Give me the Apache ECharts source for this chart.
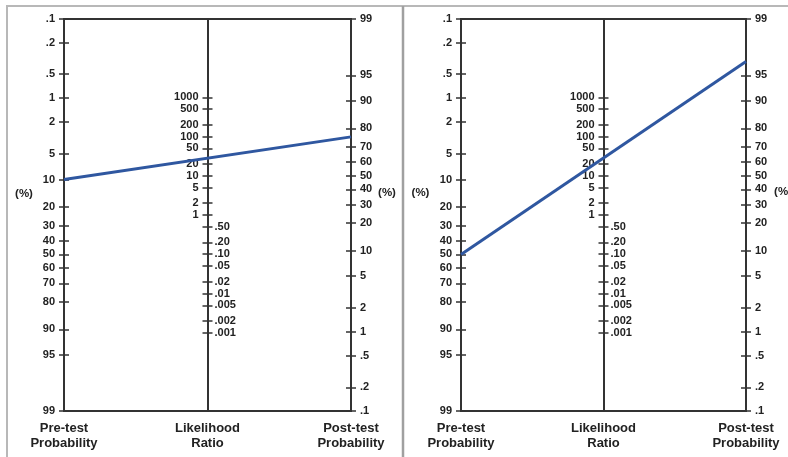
<!DOCTYPE html>
<html>
<head>
<meta charset="utf-8">
<script src="https://cdn.jsdelivr.net/npm/echarts@6/dist/echarts.min.js"></script>
<style>html,body{margin:0;padding:0;background:#fff;}#c{width:788px;height:457px;}</style>
</head>
<body>
<div id="c"></div>
<script>
// ---- data ----
const preTickLabels = ['.1','.2','.5','1','2','5','10','20','30','40','50','60','70','80','90','95','99'];
const postTickLabels = ['99','95','90','80','70','60','50','40','30','20','10','5','2','1','.5','.2','.1'];
const lrTickLabels = ['1000','500','200','100','50','20','10','5','2','1','.50','.20','.10','.05','.02','.01','.005','.002','.001'];
const panelNames = ['Example A', 'Example B'];
const preTestProb = [10, 50];     // %
const postTestProb = [75.7, 96.6]; // %
const axisTitles = ['Pre-test\nProbability', 'Likelihood\nRatio', 'Post-test\nProbability'];

// ---- helpers ----
const logit = p => Math.log(p / (100 - p));
const Lmin = logit(0.1), Lmax = logit(99);
const D = Lmax - Lmin;
const num = s => parseFloat(s);
const preVals = preTickLabels.map(s => logit(num(s)));
const postVals = postTickLabels.map(s => logit(num(s)));
const lrValsHi = lrTickLabels.filter(s => num(s) >= 1).map(s => Math.log(num(s)));
const lrValsLo = lrTickLabels.filter(s => num(s) < 1).map(s => Math.log(num(s)));
const lrValsAll = lrTickLabels.map(s => Math.log(num(s)));
function fmtFrom(labels, vals) {
  return function (v) {
    let best = 0, bd = Infinity;
    vals.forEach((x, i) => { const d = Math.abs(x - v); if (d < bd) { bd = d; best = i; } });
    return labels[best];
  };
}
const preFmt = fmtFrom(preTickLabels, preVals);
const postFmt = fmtFrom(postTickLabels, postVals);
const lrFmt = fmtFrom(lrTickLabels, lrValsAll);

const FONT = 'Liberation Sans, Arial, Helvetica, sans-serif';
const AX = '#333';
const TXT = '#222';
const labelStyle = { fontFamily: FONT, fontWeight: 'bold', fontSize: 11, color: TXT };

const panels = [{ l: 64, r: 351 }, { l: 461, r: 746 }];
const TOP = 19, H = 392;

const grids = [], xAxes = [], yAxes = [], series = [], graphics = [];

function yAxis(grid, position, min, max, inverse, o) {
  return {
    gridIndex: grid, type: 'value', position: position, min: min, max: max, inverse: inverse,
    axisLine: { show: o.line, onZero: false, lineStyle: { color: AX, width: 2 } },
    axisTick: { show: true, inside: o.inside, length: 5, customValues: o.ticks, lineStyle: { color: AX, width: 1.5 } },
    axisLabel: Object.assign({ show: !!o.labels, customValues: o.labels || [], formatter: o.fmt,
      margin: o.margin || 9, inside: !!o.labelInside, showMinLabel: true, showMaxLabel: true }, labelStyle),
    splitLine: { show: false }
  };
}

panels.forEach((p, k) => {
  const gMain = grids.length;
  grids.push({ left: p.l, top: TOP, width: p.r - p.l, height: H, show: true, borderColor: AX, borderWidth: 2, containLabel: false });
  xAxes.push({ gridIndex: gMain, type: 'value', min: 0, max: 1, show: false });
  const mid = (p.l + p.r) / 2;
  const gMid = grids.length;
  grids.push({ left: mid, top: TOP, width: 20, height: H, show: false });
  xAxes.push({ gridIndex: gMid, type: 'value', min: 0, max: 1, show: false });

  const preIdx = yAxes.length;
  yAxes.push(yAxis(gMain, 'left', Lmin, Lmax, true, { line: true, inside: false, ticks: preVals, labels: preVals, fmt: preFmt }));
  yAxes.push(yAxis(gMain, 'left', Lmin, Lmax, true, { line: false, inside: true, ticks: preVals }));
  yAxes.push(yAxis(gMain, 'right', Lmin, Lmax, false, { line: true, inside: false, ticks: postVals, labels: postVals, fmt: postFmt }));
  yAxes.push(yAxis(gMain, 'right', Lmin, Lmax, false, { line: false, inside: true, ticks: postVals }));
  yAxes.push(yAxis(gMid, 'left', -D, D, false, { line: true, inside: false, ticks: lrValsAll, labels: lrValsHi, fmt: lrFmt }));
  yAxes.push(yAxis(gMid, 'left', -D, D, false, { line: false, inside: true, ticks: lrValsAll, labels: lrValsLo, fmt: lrFmt, labelInside: true, margin: 7 }));

  series.push({
    name: panelNames[k], type: 'line', xAxisIndex: gMain, yAxisIndex: preIdx,
    data: [[0, logit(preTestProb[k])], [1, Lmin + Lmax - logit(postTestProb[k])]],
    symbol: 'none', silent: true, z: 5,
    lineStyle: { color: '#2f57a0', width: 3 }
  });

  // axis titles under each vertical scale
  [p.l, mid, p.r].forEach((x, i) => {
    graphics.push({ type: 'text', left: x, top: 421, style: { text: axisTitles[i], x: 0, y: 0, align: 'center',
      font: 'bold 13px ' + FONT, fill: TXT, lineHeight: 15 }, silent: true, z: 10,
      position: [x, 421], });
  });
});

// percent markers
[[24, 193.5], [387, 193], [420.5, 193], [783, 192]].forEach(([x, y]) => {
  graphics.push({ type: 'text', position: [x, y], style: { text: '(%)', align: 'center', verticalAlign: 'middle',
    font: 'bold 11.5px ' + FONT, fill: TXT }, silent: true });
});

// frame
const frameCol = '#b8b8b8';
graphics.push({ type: 'line', shape: { x1: 6, y1: 6, x2: 788, y2: 6 }, style: { stroke: frameCol, lineWidth: 2 }, silent: true });
graphics.push({ type: 'line', shape: { x1: 7, y1: 6, x2: 7, y2: 457 }, style: { stroke: frameCol, lineWidth: 2 }, silent: true });
graphics.push({ type: 'line', shape: { x1: 403, y1: 6, x2: 403, y2: 457 }, style: { stroke: '#a0a0a0', lineWidth: 2.5 }, silent: true });

// fix text graphic positions (use position only)
graphics.forEach(g => { if (g.type === 'text') { delete g.left; delete g.top; } });

const chart = echarts.init(document.getElementById('c'), null, { renderer: 'canvas' });
chart.setOption({
  animation: false,
  backgroundColor: '#fff',
  grid: grids,
  xAxis: xAxes,
  yAxis: yAxes,
  series: series,
  graphic: { elements: graphics }
});
</script>
</body>
</html>
